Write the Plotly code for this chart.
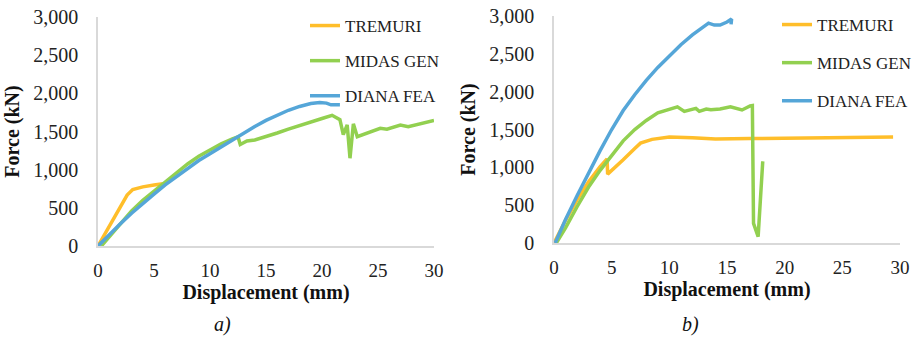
import plotly.graph_objects as go

# ---------- Data: chart a) ----------
a_tremuri_x = [0, 1.0, 2.0, 2.6, 3.1, 4.0, 5.0, 5.8]
a_tremuri_y = [0, 260, 520, 668, 740, 775, 800, 815]

a_midas_x = [0.3, 1, 2, 3, 4, 5, 6, 7, 8, 9, 10, 11, 12, 12.5, 12.7, 13.3, 14.0,
             15, 16, 17, 18, 19, 20, 20.9, 21.3, 21.6, 21.9, 22.25, 22.5, 22.8,
             23.15, 24.3, 25.2, 25.8, 27.0, 27.7, 30.0]
a_midas_y = [0, 120, 300, 460, 600, 720, 840, 960, 1075, 1175, 1260, 1340, 1405, 1432, 1330,
             1376, 1389, 1430, 1480, 1530, 1580, 1625, 1670, 1712, 1686, 1655, 1460, 1585, 1150, 1600,
             1432, 1498, 1542, 1529, 1585, 1563, 1645]

a_diana_x = [0, 1, 2, 3, 4, 5, 6, 7, 8, 9, 10, 11, 12, 13, 14, 15, 16, 17, 18, 19,
             19.8, 20.4, 20.8, 21.6]
a_diana_y = [0, 150, 290, 430, 560, 680, 800, 910, 1020, 1120, 1210, 1300, 1390, 1475, 1565,
             1645, 1715, 1778, 1828, 1866, 1880, 1872, 1850, 1850]

# ---------- Data: chart b) ----------
b_tremuri_x = [0, 1, 2, 3, 4, 4.6, 4.65, 5.4, 6, 7, 7.5, 8.5, 10, 12, 14, 17, 20, 25, 29.4]
b_tremuri_y = [0, 300, 570, 810, 1010, 1110, 910, 1010, 1100, 1250, 1320, 1370, 1400, 1390,
               1375, 1380, 1385, 1390, 1400]

b_midas_x = [0.2, 1, 2, 3, 4, 5, 6, 7, 8, 9, 10, 10.7, 11.3, 12.3, 12.6, 13.2, 13.6,
             14.4, 15.3, 15.6, 16.3, 17.0, 17.2, 17.3, 17.7, 18.1]
b_midas_y = [0, 200, 480, 740, 960, 1160, 1350, 1500, 1620, 1720, 1770, 1800, 1740, 1780,
             1740, 1770, 1760, 1770, 1800, 1790, 1758, 1810, 1815, 260, 85, 1080]

b_diana_x = [0.1, 1, 2, 3, 4, 5, 6, 7, 8, 9, 10, 11, 12, 13, 13.4, 13.9, 14.4, 15.0,
             15.4, 15.35]
b_diana_y = [0, 310, 625, 930, 1220, 1500, 1750, 1960, 2150, 2320, 2475, 2620, 2750, 2870,
             2905, 2880, 2880, 2920, 2960, 2890]

x_ticks = [0, 5, 10, 15, 20, 25, 30]
y_ticks = [0, 500, 1000, 1500, 2000, 2500, 3000]
y_tick_text = ["0", "500", "1,000", "1,500", "2,000", "2,500", "3,000"]

names = ["TREMURI", "MIDAS GEN", "DIANA FEA"]
colors = ["#FFBE2A", "#92D050", "#55A6D8"]

SERIF = "Liberation Serif, Times New Roman, serif"
LW = 3.5

fig = go.Figure()

sets_a = [(a_tremuri_x, a_tremuri_y), (a_midas_x, a_midas_y), (a_diana_x, a_diana_y)]
sets_b = [(b_tremuri_x, b_tremuri_y), (b_midas_x, b_midas_y), (b_diana_x, b_diana_y)]

for i, (xs, ys) in enumerate(sets_a):
    fig.add_trace(go.Scatter(x=xs, y=ys, mode="lines", name=names[i],
                             line=dict(color=colors[i], width=LW),
                             xaxis="x", yaxis="y", legend="legend",
                             legendgroup="a" + str(i)))
for i, (xs, ys) in enumerate(sets_b):
    fig.add_trace(go.Scatter(x=xs, y=ys, mode="lines", name=names[i],
                             line=dict(color=colors[i], width=LW),
                             xaxis="x2", yaxis="y2", legend="legend2",
                             legendgroup="b" + str(i)))

W, H = 916, 339

def xax(domain, anchor):
    return dict(domain=domain, anchor=anchor, range=[0, 30], tickvals=x_ticks,
                automargin=False, ticklabelstandoff=6,
                showgrid=False, zeroline=False, showline=True, linecolor="#D9D9D9",
                linewidth=1.5, ticks="", tickfont=dict(family=SERIF, size=19, color="#222"),
                title=dict(text="<b>Displacement (mm)</b>", standoff=4,
                           font=dict(family=SERIF, size=20, color="#111")))

def yax(domain, anchor):
    return dict(domain=domain, anchor=anchor, range=[0, 3000], tickvals=y_ticks,
                automargin=False, ticklabelstandoff=14,
                ticktext=y_tick_text, showgrid=False, zeroline=False, showline=True,
                linecolor="#D9D9D9", linewidth=1.5, ticks="",
                tickfont=dict(family=SERIF, size=20, color="#222"),
                title=dict(text="<b>Force (kN)</b>", standoff=8,
                           font=dict(family=SERIF, size=20, color="#111")))

fig.update_layout(
    width=W, height=H,
    margin=dict(l=0, r=0, t=0, b=0, autoexpand=False),
    paper_bgcolor="white", plot_bgcolor="white",
    xaxis=xax([98 / W, 434 / W], "y"),
    yaxis=yax([93 / H, 322 / H], "x"),
    xaxis2=xax([554 / W, 900 / W], "y2"),
    yaxis2=yax([96 / H, 323 / H], "x2"),
    legend=dict(x=305 / W, y=1 - 8 / H, xanchor="left", yanchor="top",
                bgcolor="rgba(0,0,0,0)", traceorder="grouped", tracegroupgap=10,
                font=dict(family=SERIF, size=17, color="#222")),
    legend2=dict(x=777 / W, y=1 - 7 / H, xanchor="left", yanchor="top",
                 bgcolor="rgba(0,0,0,0)", traceorder="grouped", tracegroupgap=13,
                 font=dict(family=SERIF, size=17, color="#222")),
    annotations=[
        dict(text="<i>a)</i>", x=222 / W, y=1 - 324 / H, xref="paper", yref="paper",
             xanchor="center", yanchor="middle", showarrow=False,
             font=dict(family=SERIF, size=20, color="#111")),
        dict(text="<i>b)</i>", x=690 / W, y=1 - 324 / H, xref="paper", yref="paper",
             xanchor="center", yanchor="middle", showarrow=False,
             font=dict(family=SERIF, size=20, color="#111")),
    ],
)

fig.write_html("out.html", config={"displayModeBar": False},
               post_script="document.body.style.margin='0';document.body.style.overflow='hidden';")
